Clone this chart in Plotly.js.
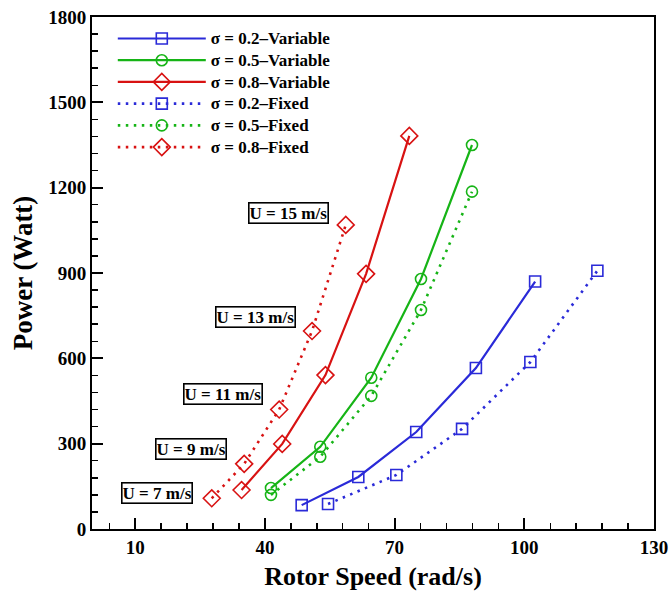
<!DOCTYPE html>
<html>
<head>
<meta charset="utf-8">
<script src="https://cdn.plot.ly/plotly-3.0.1.min.js"></script>
<style>
  html, body { margin: 0; padding: 0; background: #fff; }
  #chart { width: 672px; height: 597px; }
</style>
</head>
<body>
<div id="chart"></div>
<script>
// Rotor speed (rad/s) and power (W) at wind speeds U = 7, 9, 11, 13, 15 m/s
const windSpeeds = [7, 9, 11, 13, 15];

const speed02Var = [48.5, 61.6, 75.0, 88.8, 102.5];
const power02Var = [84, 183, 341, 566, 870];
const speed05Var = [41.4, 52.8, 64.6, 76.1, 87.9];
const power05Var = [144, 289, 532, 879, 1350];
const speed08Var = [34.6, 44.0, 54.0, 63.4, 73.4];
const power08Var = [137, 299, 541, 897, 1382];

const speed02Fix = [54.6, 70.4, 85.6, 101.4, 116.9];
const power02Fix = [88, 190, 352, 587, 908];
const speed05Fix = [41.4, 52.8, 64.6, 76.1, 87.9];
const power05Fix = [120, 254, 468, 770, 1186];
const speed08Fix = [27.7, 35.2, 43.3, 50.9, 58.7];
const power08Fix = [108, 229, 420, 696, 1069];

// Wind-speed label positions (rotor speed, power)
const labelX = [15.0, 23.0, 30.4, 37.9, 45.4];
const labelY = [126, 281, 476, 744, 1111];

const BLUE = '#2a2ad8', GREEN = '#16b416', RED = '#d81212';
const SERIF = 'Liberation Serif, Times New Roman, serif';

// Legend entries are set a little larger than the row pitch implied by legend.font.size
function legendName(s) {
  return '<span style="font-size:17px">' + s + '</span>';
}

function series(name, x, y, color, symbol, dash) {
  const solid = dash === 'solid';
  return {
    type: 'scatter', mode: 'lines+markers', name: legendName(name), x: x, y: y,
    line: { color: color, width: solid ? 2.2 : 2.6, dash: solid ? 'solid' : '2.5px,5.5px' },
    marker: { symbol: symbol, size: symbol === 'diamond-open' ? 13 : 11,
              color: color, line: { color: color, width: 1.6 } }
  };
}

const traces = [
  series('σ = 0.2–Variable', speed02Var, power02Var, BLUE, 'square-open', 'solid'),
  series('σ = 0.5–Variable', speed05Var, power05Var, GREEN, 'circle-open', 'solid'),
  series('σ = 0.8–Variable', speed08Var, power08Var, RED, 'diamond-open', 'solid'),
  series('σ = 0.2–Fixed', speed02Fix, power02Fix, BLUE, 'square-open', 'dot'),
  series('σ = 0.5–Fixed', speed05Fix, power05Fix, GREEN, 'circle-open', 'dot'),
  series('σ = 0.8–Fixed', speed08Fix, power08Fix, RED, 'diamond-open', 'dot')
];

const annotations = windSpeeds.map((u, i) => ({
  x: labelX[i], y: labelY[i], xref: 'x', yref: 'y',
  text: 'U = ' + u + ' m/s', showarrow: false,
  font: { family: SERIF, size: 17, color: '#000', weight: 'bold' },
  bgcolor: '#fff', bordercolor: '#000', borderwidth: 1.6, borderpad: 0
}));

const layout = {
  width: 672, height: 597,
  margin: { l: 92, r: 18, t: 17, b: 68 },
  paper_bgcolor: '#fff', plot_bgcolor: '#fff',
  font: { family: SERIF, color: '#000' },
  showlegend: true,
  legend: {
    x: 0.037, y: 0.989, xanchor: 'left', yanchor: 'top',
    bgcolor: 'rgba(0,0,0,0)', borderwidth: 0,
    font: { family: SERIF, size: 14.4, color: '#000', weight: 'bold' },
    itemwidth: 88, tracegroupgap: 0
  },
  xaxis: {
    range: [0, 130], tick0: 10, dtick: 30,
    ticks: 'inside', ticklen: 11, tickwidth: 2, tickcolor: '#000',
    minor: { dtick: 6, tick0: 4, ticks: 'inside', ticklen: 6, tickwidth: 1.5, tickcolor: '#000' },
    showline: true, linewidth: 2, linecolor: '#000', mirror: true,
    showgrid: false, zeroline: false,
    tickfont: { family: SERIF, size: 19, weight: 'bold' },
    title: { text: 'Rotor Speed (rad/s)', font: { family: SERIF, size: 26, weight: 'bold' }, standoff: 10 }
  },
  yaxis: {
    range: [0, 1800], tick0: 0, dtick: 300,
    ticks: 'inside', ticklen: 11, tickwidth: 2, tickcolor: '#000',
    minor: { dtick: 60, ticks: 'inside', ticklen: 6, tickwidth: 1.5, tickcolor: '#000' },
    showline: true, linewidth: 2, linecolor: '#000', mirror: true,
    showgrid: false, zeroline: false,
    tickfont: { family: SERIF, size: 19, weight: 'bold' },
    title: { text: 'Power (Watt)', font: { family: SERIF, size: 27, weight: 'bold' }, standoff: 8 }
  },
  annotations: annotations
};

Plotly.newPlot('chart', traces, layout, { displayModeBar: false, staticPlot: true });
</script>
</body>
</html>
